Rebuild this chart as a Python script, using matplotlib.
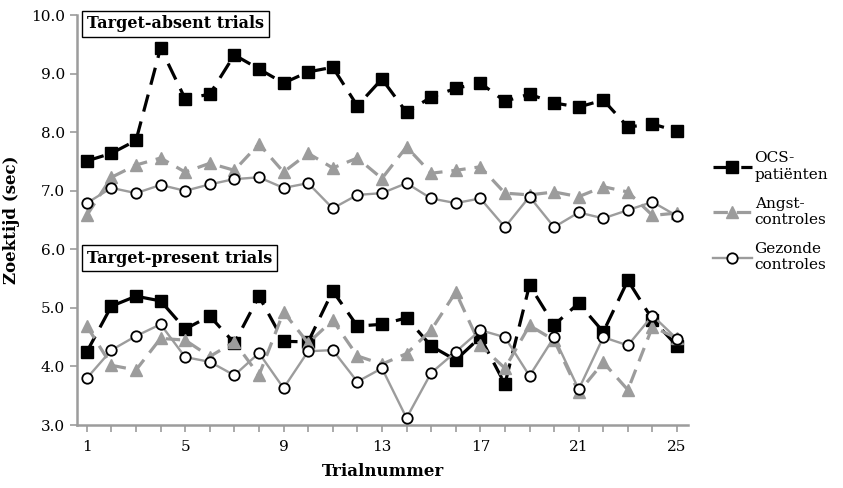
import numpy as np
import matplotlib.pyplot as plt
from matplotlib.lines import Line2D

trials = list(range(1, 26))

# target-absent trials
ocs_absent = [7.51, 7.64, 7.86, 9.44, 8.57, 8.65, 9.32, 9.08, 8.84, 9.03, 9.11, 8.45, 8.91,
              8.34, 8.60, 8.75, 8.84, 8.53, 8.65, 8.50, 8.43, 8.55, 8.09, 8.14, 8.02]
angst_absent = [6.58, 7.23, 7.44, 7.56, 7.32, 7.47, 7.35, 7.80, 7.32, 7.64, 7.39, 7.56, 7.21,
                7.75, 7.30, 7.35, 7.41, 6.96, 6.93, 6.98, 6.90, 7.07, 6.98, 6.58, 6.62]
gezond_absent = [6.79, 7.05, 6.96, 7.10, 7.00, 7.11, 7.20, 7.23, 7.05, 7.13, 6.70, 6.93, 6.96,
                 7.13, 6.87, 6.79, 6.87, 6.38, 6.90, 6.38, 6.63, 6.53, 6.67, 6.81, 6.57]

# target-present trials
ocs_present = [4.25, 5.03, 5.20, 5.12, 4.64, 4.86, 4.40, 5.20, 4.43, 4.42, 5.29, 4.69, 4.72,
               4.83, 4.35, 4.11, 4.50, 3.70, 5.39, 4.71, 5.08, 4.59, 5.47, 4.80, 4.35]
angst_present = [4.69, 4.02, 3.94, 4.48, 4.45, 4.17, 4.42, 3.85, 4.93, 4.40, 4.79, 4.18, 4.04,
                 4.22, 4.62, 5.27, 4.36, 3.97, 4.70, 4.45, 3.56, 4.07, 3.60, 4.68, 4.48]
gezond_present = [3.80, 4.28, 4.52, 4.72, 4.16, 4.08, 3.85, 4.23, 3.63, 4.26, 4.28, 3.74, 3.97,
                  3.12, 3.89, 4.25, 4.62, 4.50, 3.84, 4.50, 3.61, 4.50, 4.36, 4.87, 4.47]

labels = ['OCS-\npatiënten', 'Angst-\ncontroles', 'Gezonde\ncontroles']

plt.rcParams['font.family'] = ['DejaVu Serif']
gray = '#9c9c9c'

fig = plt.figure(figsize=(8.43, 4.88), dpi=100)
ax = fig.add_axes([0.0913, 0.129, 0.725, 0.840])

styles = [
    dict(color='black', lw=2.3, ls=(0, (5.5, 3.2)), marker='s', ms=8, mfc='black', mec='black', zorder=2),
    dict(color=gray, lw=2.3, ls=(0, (4.5, 2.8)), marker='^', ms=8.5, mfc=gray, mec=gray, zorder=3),
    dict(color=gray, lw=1.7, ls='-', marker='o', ms=7.5, mfc='white', mec='black', mew=1.3, zorder=4),
]

for data, st in zip([ocs_absent, angst_absent, gezond_absent], styles):
    ax.plot(trials, data, **st)
for data, st in zip([ocs_present, angst_present, gezond_present], styles):
    ax.plot(trials, data, **st)

ax.set_xlim(0.6, 25.45)
ax.set_ylim(3.0, 10.0)
ax.set_xticks(trials)
ax.set_xticklabels([str(t) if (t - 1) % 4 == 0 else '' for t in trials])
ax.set_yticks(np.arange(3, 11))
ax.set_yticklabels(['%.1f' % v for v in np.arange(3, 11)])

for s in ['top', 'right']:
    ax.spines[s].set_visible(False)
for s in ['left', 'bottom']:
    ax.spines[s].set_color(gray)
    ax.spines[s].set_linewidth(1.8)
ax.tick_params(axis='both', colors=gray, labelcolor='black', labelsize=11, width=1.2, length=5)
ax.tick_params(axis='x', pad=6)

ax.set_ylabel('Zoektijd (sec)', fontsize=12, fontweight='bold', labelpad=8)
ax.set_xlabel('Trialnummer', fontsize=12, fontweight='bold', labelpad=6)

box = dict(boxstyle='square,pad=0.3', fc='white', ec='black', lw=1.0)
ax.text(1.0, 9.85, 'Target-absent trials', fontsize=11.5, fontweight='bold',
        va='center', ha='left', bbox=box, zorder=6)
ax.text(1.0, 5.85, 'Target-present trials', fontsize=11.5, fontweight='bold',
        va='center', ha='left', bbox=box, zorder=6)

handles = [Line2D([], [], **{k: v for k, v in st.items() if k != 'zorder'}) for st in styles]
ax.legend(handles, labels, loc='center left', bbox_to_anchor=(1.03, 0.52), frameon=False,
          fontsize=11, handlelength=2.6, handletextpad=0.15, labelspacing=1.0, borderaxespad=0)

fig.savefig('out.png', dpi=100)
